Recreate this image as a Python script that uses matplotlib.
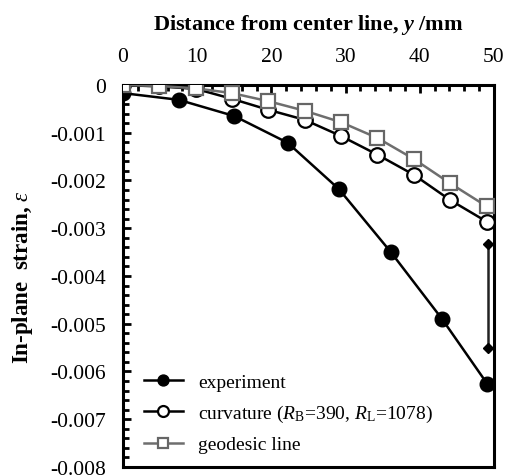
"""In-plane strain along the distance from the center line."""

import matplotlib

matplotlib.use("Agg")
import matplotlib.pyplot as plt
from matplotlib.ticker import MultipleLocator, FuncFormatter

# experiment
EXP_Y = [0.0, 7.5, 15.0, 22.2, 29.1, 36.1, 43.0, 49.1]
EXP_STRAIN = [-0.00017, -0.00031, -0.00065, -0.00121, -0.00218, -0.00350, -0.00490, -0.00626]

# curvature model and geodesic line share the same stations
MODEL_Y = [0.0, 4.9, 9.8, 14.7, 19.6, 24.5, 29.4, 34.3, 39.2, 44.1, 49.0]
CURV_STRAIN = [0.0, -0.00003, -0.00008, -0.00029, -0.00052, -0.00073, -0.00107,
               -0.00146, -0.00188, -0.00241, -0.00286]
GEO_STRAIN = [0.0, -0.00002, -0.00007, -0.00017, -0.00034, -0.00054, -0.00078,
              -0.00111, -0.00155, -0.00206, -0.00254]

# scatter band drawn at the edge
BAND_Y = 49.2
BAND_LOW, BAND_HIGH = -0.0055, -0.00333

plt.rcParams.update(
    {
        "font.family": "serif",
        "font.serif": ["Liberation Serif", "DejaVu Serif"],
        "mathtext.fontset": "custom",
        "mathtext.rm": "Liberation Serif",
        "mathtext.it": "Liberation Serif:italic",
        "mathtext.bf": "Liberation Serif:bold",
        "mathtext.bfit": "Liberation Serif:bold:italic",
        "font.size": 15,
    }
)

fig = plt.figure(figsize=(5.12, 4.77), dpi=100)
ax = fig.add_axes([0.2402, 0.0189, 0.7246, 0.8008])

ax.plot(EXP_Y, EXP_STRAIN, color="black", lw=1.8, marker="o", ms=10.5,
        mfc="black", mec="black", label="experiment", zorder=4)
ax.plot(MODEL_Y, CURV_STRAIN, color="black", lw=1.8, marker="o", ms=10.5,
        mfc="white", mec="black", mew=1.6,
        label=r"curvature ($R_\mathrm{B}$=390, $R_\mathrm{L}$=1078)", zorder=5)
ax.plot(MODEL_Y, GEO_STRAIN, color="#6e6e6e", lw=1.8, marker="s", ms=9.5,
        mfc="white", mec="#666666", mew=1.6, label="geodesic line", zorder=6)

ax.plot([BAND_Y, BAND_Y], [BAND_LOW, BAND_HIGH], color="#222222", lw=1.8,
        marker="D", ms=5, mfc="black", mec="black", zorder=3)

ax.set_xlim(0, 50)
ax.set_ylim(-0.008, 0)
ax.xaxis.tick_top()
ax.xaxis.set_label_position("top")
ax.xaxis.set_major_locator(MultipleLocator(10))
ax.xaxis.set_minor_locator(MultipleLocator(2))
ax.yaxis.set_major_locator(MultipleLocator(0.001))
ax.yaxis.set_minor_locator(MultipleLocator(0.0002))
ax.yaxis.set_major_formatter(FuncFormatter(lambda v, _: "0" if abs(v) < 1e-9 else f"{v:.3f}"))

ax.tick_params(which="both", direction="in", width=2, top=True, bottom=False,
               left=True, right=False, labelsize=15.5)
ax.tick_params(which="major", length=6)
ax.tick_params(which="minor", length=4)
ax.tick_params(axis="x", which="major", pad=14)
ax.tick_params(axis="y", which="major", pad=12)
for spine in ax.spines.values():
    spine.set_linewidth(2.2)

ax.set_xlabel(r"Distance from center line, $\boldsymbol{y}$ /mm", fontsize=16,
              fontweight="bold", labelpad=13)
ax.set_ylabel(r"In-plane  strain, $\varepsilon$", fontsize=16.5, fontweight="bold",
              labelpad=11)

ax.legend(loc="lower left", frameon=False, fontsize=14, handlelength=2.0,
          markerscale=0.75, borderaxespad=0.3, labelspacing=0.62,
          bbox_to_anchor=(0.02, 0.0))

fig.savefig("out.png", dpi=100)
